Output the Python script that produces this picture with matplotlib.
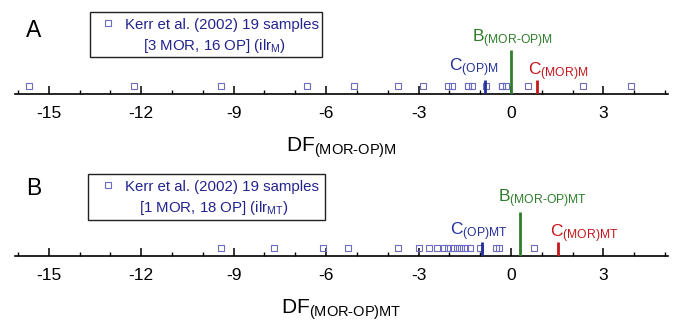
import matplotlib
matplotlib.use("Agg")
import matplotlib.pyplot as plt
from matplotlib.lines import Line2D
from matplotlib.patches import Rectangle
from matplotlib.ticker import MultipleLocator

plt.rcParams['font.family'] = ['Liberation Sans', 'DejaVu Sans']
plt.rcParams['mathtext.fontset'] = 'custom'
plt.rcParams['mathtext.rm'] = 'Liberation Sans'
plt.rcParams['mathtext.it'] = 'Liberation Sans'
plt.rcParams['mathtext.bf'] = 'Liberation Sans'
plt.rcParams['axes.unicode_minus'] = False

# ---- data ----
samples_A = [-15.63, -12.25, -9.41, -6.63, -5.08, -3.65, -2.86, -2.03, -1.92,
             -1.38, -1.27, -0.81, -0.30, -0.16, 0.57, 2.33, 3.90, -1.38, -0.30]
samples_B = [-9.41, -7.68, -6.11, -5.28, -3.68, -3.00, -2.66, -2.40, -2.18,
             -2.05, -1.89, -1.76, -1.62, -1.48, -1.32, -1.00, -0.50, -0.40, 0.76]
C_OP_A, B_A, C_MOR_A = -0.83, 0.0, 0.85
C_OP_B, B_B, C_MOR_B = -0.95, 0.28, 1.53
xticks = [-15, -12, -9, -6, -3, 0, 3]
legend_A = ['Kerr et al. (2002) 19 samples', '[3 MOR, 16 OP] (ilr$_{\\mathrm{M}}$)']
legend_B = ['Kerr et al. (2002) 19 samples', '[1 MOR, 18 OP] (ilr$_{\\mathrm{MT}}$)']

pt_color = '#6b6bbf'
blue = '#23309a'
green = '#2f7d2b'
red = '#c4161c'
navy = '#23238f'

fig = plt.figure(figsize=(6.76, 3.22), dpi=100)
W, H = 676, 322

def fx(px):
    return px / W

def fy(py):
    return 1 - py / H

def make_ax(axis_y):
    ax = fig.add_axes([fx(15), fy(axis_y), (668 - 15) / W, 80 / H])
    ax.set_xlim(-16.1, 5.1)
    ax.set_ylim(0, 80)
    for s in ['top', 'left', 'right']:
        ax.spines[s].set_visible(False)
    ax.spines['bottom'].set_linewidth(1.2)
    ax.set_yticks([])
    ax.set_xticks(xticks)
    ax.xaxis.set_minor_locator(MultipleLocator(1))
    ax.tick_params(axis='x', which='major', direction='in', length=6, width=1.1,
                   labelsize=12.5, pad=9)
    ax.tick_params(axis='x', which='minor', direction='in', length=3, width=1.0)
    ax.patch.set_alpha(0)
    return ax

def draw_panel(ax, samples, c_op, b, c_mor, sub, hoff, voff):
    ax.plot(samples, [8] * len(samples), linestyle='none', marker='s', markersize=3.8,
            markerfacecolor='none', markeredgecolor=pt_color, markeredgewidth=0.8,
            clip_on=False, zorder=2)
    ax.vlines([c_op], 0, 14, color=blue, linewidth=2.0, zorder=3)
    ax.vlines([b], 0, 44, color=green, linewidth=2.0, zorder=3)
    ax.vlines([c_mor], 0, 14, color=red, linewidth=2.0, zorder=3)
    ax.annotate(r'C$_{\mathrm{(OP)' + sub + '}}$', xy=(c_op, 14), xytext=(hoff[0], voff[0]),
                textcoords='offset pixels', ha='center', va='bottom',
                color=blue, fontsize=12.5)
    ax.annotate(r'B$_{\mathrm{(MOR\text{-}OP)' + sub + '}}$', xy=(b, 44),
                xytext=(hoff[1], voff[1]),
                textcoords='offset pixels', ha='center', va='bottom',
                color=green, fontsize=12.5)
    ax.annotate(r'C$_{\mathrm{(MOR)' + sub + '}}$', xy=(c_mor, 14), xytext=(hoff[2], voff[2]),
                textcoords='offset pixels', ha='center', va='bottom',
                color=red, fontsize=12.5)
    ax.set_xlabel(r'DF$_{\mathrm{(MOR\text{-}OP)' + sub + '}}$', fontsize=15, labelpad=10)

axA = make_ax(94)
draw_panel(axA, samples_A, C_OP_A, B_A, C_MOR_A, 'M', (-12, 2, 21), (1, 0, -3))
axB = make_ax(255.7)
draw_panel(axB, samples_B, C_OP_B, B_B, C_MOR_B, 'MT', (-3, 23, 26), (-1, 1.5, -3))

def add_box(lines, top, x0=90, x1=322, h=45):
    fig.patches.append(Rectangle((fx(x0), fy(top + h)), (x1 - x0) / W, h / H,
                                 transform=fig.transFigure, facecolor='white',
                                 edgecolor='#222222', linewidth=1.0))
    fig.lines.append(Line2D([fx(108)], [fy(top + 11)], transform=fig.transFigure,
                            linestyle='none', marker='s', markersize=3.8,
                            markerfacecolor='none', markeredgecolor=pt_color,
                            markeredgewidth=0.8))
    fig.text(fx(125), fy(top + 17.5), lines[0], color=navy, fontsize=10.8,
             ha='left', va='baseline')
    fig.text(fx(214), fy(top + 38), lines[1], color=navy, fontsize=10.8,
             ha='center', va='baseline')

add_box(legend_A, 12)
add_box(legend_B, 174, x0=88, x1=325, h=46)

fig.text(fx(26), fy(37), 'A', fontsize=16.5, ha='left', va='baseline')
fig.text(fx(26), fy(195), 'B', fontsize=16.5, ha='left', va='baseline')

fig.savefig('out.png', dpi=100)
